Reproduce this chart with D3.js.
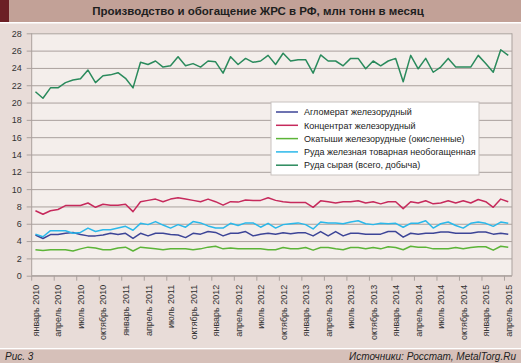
<!DOCTYPE html>
<html><head><meta charset="utf-8">
<script src="https://cdn.jsdelivr.net/npm/d3@7"></script>
<style>
html,body{margin:0;padding:0;background:#e8dcd8;}
svg{display:block;font-family:"Liberation Sans",Arial,sans-serif;}
</style></head>
<body><svg id="c" width="521" height="363"></svg>
<script>
const title = "Производство и обогащение ЖРС в РФ, млн тонн в месяц";
const figLabel = "Рис. 3";
const sourceLabel = "Источники: Росстат, MetalTorg.Ru";
const tickLabels = ["январь 2010","апрель 2010","июль 2010","октябрь 2010","январь 2011","апрель 2011","июль 2011","октябрь 2011","январь 2012","апрель 2012","июль 2012","октябрь 2012","январь 2013","апрель 2013","июль 2013","октябрь 2013","январь 2014","апрель 2014","июль 2014","октябрь 2014","январь 2015","апрель 2015"];
const monthCount = 64;
const yTicks = [0,2,4,6,8,10,12,14,16,18,20,22,24,26,28];
const seriesNames = ["Агломерат железорудный","Концентрат железорудный","Окатыши железорудные (окисленные)","Руда железная товарная необогащенная","Руда сырая (всего, добыча)"];
const seriesColors = ["#3d4597","#c62a5c","#5cb438","#2bb8ea","#2a8a5c"];
const aglomerat = [4.7,4.3,4.75,4.75,4.9,5.0,4.75,4.6,4.6,4.7,4.9,4.75,4.9,4.3,4.9,4.6,4.9,4.9,4.75,4.7,4.4,4.9,4.8,5.1,5.0,4.6,4.9,4.9,5.1,4.6,4.8,4.9,
  4.8,4.95,4.85,4.95,4.95,4.6,5.1,4.6,5.1,4.6,4.9,4.9,4.8,4.8,4.8,5.1,5.1,4.45,4.9,4.8,4.9,4.9,5.05,5.05,4.9,4.9,4.9,5.05,5.05,4.8,4.9,4.8];
const koncentrat = [7.5,7.1,7.5,7.65,8.1,8.1,8.1,8.4,7.9,8.25,8.15,8.15,8.25,7.4,8.55,8.7,8.85,8.55,8.85,9.0,8.85,8.7,8.55,8.85,8.55,8.15,8.55,8.5,8.75,8.7,8.7,9.0,
  8.7,8.55,8.45,8.45,8.45,7.9,8.65,8.55,8.4,8.55,8.55,8.65,8.4,8.55,8.3,8.55,8.55,7.75,8.55,8.4,8.65,8.3,8.4,8.65,8.4,8.65,8.4,8.8,8.55,7.9,8.85,8.55];
const okatyshi = [3.0,2.9,3.0,3.0,3.0,2.85,3.1,3.3,3.2,3.0,3.0,3.2,3.3,2.85,3.3,3.2,3.1,3.0,3.1,3.1,3.1,3.0,3.1,3.3,3.4,3.1,3.2,3.1,3.1,3.1,3.1,3.0,
  3.0,3.25,3.1,3.1,3.25,2.95,3.25,3.25,3.1,3.0,3.25,3.25,3.1,3.25,3.1,3.35,3.25,3.0,3.4,3.3,3.3,3.1,3.1,3.1,3.25,3.1,3.25,3.35,3.35,2.95,3.4,3.3];
const rudaTovarnaya = [4.8,4.5,5.2,5.2,5.2,4.9,5.0,5.5,5.1,5.3,5.3,5.5,5.7,5.25,6.05,5.9,6.25,5.85,5.5,5.9,5.6,6.25,6.1,5.75,5.5,5.5,6.05,5.8,6.1,6.1,5.6,6.05,
  5.5,5.9,6.0,6.1,5.9,5.4,6.2,6.1,6.1,6.0,6.2,6.35,6.0,5.9,6.05,6.0,6.05,5.6,6.05,6.05,6.35,5.5,6.0,6.2,5.8,5.5,6.05,6.2,6.05,5.7,6.2,6.05];
const rudaSyraya = [21.25,20.5,21.7,21.7,22.3,22.6,22.75,23.75,22.3,23.1,23.2,23.45,22.8,21.7,24.65,24.4,24.8,24.1,24.25,25.3,24.25,24.5,24.1,24.8,24.7,23.4,25.3,24.4,25.1,24.65,24.8,25.45,
  24.4,25.7,24.8,24.95,24.95,23.4,25.5,24.8,24.8,24.25,25.1,25.1,23.9,24.8,24.25,24.8,25.1,22.4,25.45,23.9,25.1,23.5,24.1,25.1,24.1,24.1,24.1,25.45,24.5,23.5,26.1,25.45];
const seriesData = [aglomerat, koncentrat, okatyshi, rudaTovarnaya, rudaSyraya];

const svg = d3.select("#c");
const W = 521, H = 363;
svg.append("rect").attr("x",0).attr("y",0).attr("width",W).attr("height",H).attr("fill","#e8dcd8");
svg.append("rect").attr("x",0).attr("y",0).attr("width",W).attr("height",22).attr("fill","#c2a197");
svg.append("rect").attr("x",0).attr("y",0).attr("width",9).attr("height",22).attr("fill","#6c1f25");
svg.append("rect").attr("x",0).attr("y",22).attr("width",W).attr("height",1.5).attr("fill","#ffffff");
svg.append("rect").attr("x",0).attr("y",348).attr("width",W).attr("height",1.5).attr("fill","#ffffff");
svg.append("rect").attr("x",0).attr("y",349.5).attr("width",W).attr("height",H-349.5).attr("fill","#d6c0b9");
svg.append("text").attr("x",258).attr("y",15).attr("text-anchor","middle")
  .attr("font-size","11.5px").attr("font-weight","bold").attr("fill","#1e1e1e").text(title);
svg.append("text").attr("x",5).attr("y",360).attr("font-size","10px").attr("font-style","italic").attr("fill","#222").text(figLabel);
svg.append("text").attr("x",516).attr("y",360).attr("text-anchor","end").attr("font-size","10px").attr("font-style","italic").attr("fill","#222").text(sourceLabel);

const pL = 31.7, pR = 512, pT = 33.3, pB = 275.7;
const x = d3.scaleBand().domain(d3.range(monthCount)).range([pL, pR]).paddingInner(0).paddingOuter(0);
const bw = x.bandwidth();
const y = d3.scaleLinear().domain([0,28]).range([pB, pT]);

svg.append("rect").attr("x",pL).attr("y",pT).attr("width",pR-pL).attr("height",pB-pT).attr("fill","#f4eeeb");

const yAxis = d3.axisLeft(y).tickValues(yTicks).tickSize(-(pR-pL)).tickPadding(10).tickFormat(d3.format("d"));
const gy = svg.append("g").attr("transform",`translate(${pL},0)`).call(yAxis);
gy.select(".domain").remove();
gy.selectAll(".tick line").attr("stroke","#aaa19d").attr("stroke-width",1).attr("x1",-5);
gy.selectAll(".tick text").attr("font-size","9px").attr("fill","#333").attr("font-family","Liberation Sans, Arial, sans-serif");
svg.append("line").attr("x1",pL).attr("x2",pL).attr("y1",pT).attr("y2",pB).attr("stroke","#aaa19d");
svg.append("line").attr("x1",pR).attr("x2",pR).attr("y1",pT).attr("y2",pB).attr("stroke","#aaa19d");

const labelIdx = d3.range(0, monthCount, 3);
const xAxis = d3.axisBottom(x).tickValues(labelIdx).tickSize(5).tickFormat((d,i)=>tickLabels[i]);
const gx = svg.append("g").attr("transform",`translate(0,${pB})`).call(xAxis);
gx.select(".domain").attr("stroke","#aaa19d").attr("d",`M${pL},0H${pR}`);
gx.selectAll(".tick line").attr("stroke","#aaa19d").attr("transform",`translate(${-bw/2},0)`);
gx.selectAll(".tick text").attr("font-size","9px").attr("fill","#333")
  .attr("font-family","Liberation Sans, Arial, sans-serif")
  .attr("text-anchor","end").attr("dy",null)
  .attr("transform","translate(3.5,9) rotate(-90)").attr("x",0).attr("y",0);

const line = d3.line().x((d,i)=>x(i)+bw/2).y(d=>y(d));
seriesData.forEach((s,k)=>{
  svg.append("path").datum(s).attr("d",line).attr("fill","none")
    .attr("stroke",seriesColors[k]).attr("stroke-width",1.5).attr("stroke-linejoin","round");
});

const lg = svg.append("g").attr("transform","translate(271,102)");
lg.append("rect").attr("x",0).attr("y",0).attr("width",208).attr("height",73).attr("fill","#ffffff").attr("stroke","#c8c2bf");
seriesNames.forEach((n,k)=>{
  const yy = 10 + k*13.3;
  lg.append("line").attr("x1",5).attr("x2",27).attr("y1",yy).attr("y2",yy).attr("stroke",seriesColors[k]).attr("stroke-width",1.5);
  lg.append("text").attr("x",33).attr("y",yy+3.2).attr("font-size","9px").attr("fill","#222").text(n);
});
</script></body></html>
